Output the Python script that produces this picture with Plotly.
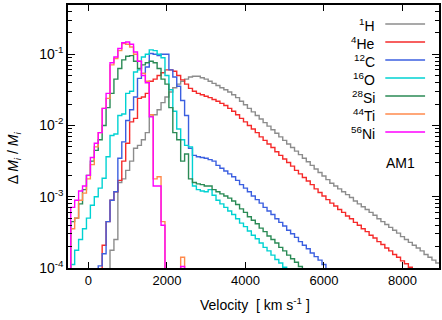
import plotly.graph_objects as go

# Velocity bins: 100 km/s wide; first bin left edge for each species
BIN_WIDTH = 100
species = ["<sup>1</sup>H", "<sup>4</sup>He", "<sup>12</sup>C", "<sup>16</sup>O",
           "<sup>28</sup>Si", "<sup>44</sup>Ti", "<sup>56</sup>Ni"]
colors = ["#8c8c8c", "#f52a2a", "#3b5fe0", "#00d2d2", "#2a8a55", "#ff8a4c", "#ff00ff"]

# log10(Delta M_i / M_i) per bin
start_H1 = 550
log_H1 = [-3.75, -3.6, -2.8, -2.75, -2.63, -2.5, -2.32, -2.28, -2.2, -2.1,
          -1.87, -1.85, -1.78, -1.68, -1.6, -1.53, -1.47, -1.42, -1.38, -1.35,
          -1.32, -1.31, -1.31, -1.33, -1.35, -1.38, -1.41, -1.44, -1.47, -1.50,
          -1.53, -1.57, -1.61, -1.66, -1.71, -1.76, -1.81, -1.86, -1.91, -1.96,
          -2.01, -2.06, -2.11, -2.16, -2.21, -2.26, -2.31, -2.36, -2.41, -2.46,
          -2.51, -2.56, -2.61, -2.66, -2.71, -2.76, -2.81, -2.85, -2.89, -2.93,
          -2.97, -3.01, -3.06, -3.10, -3.14, -3.18, -3.22, -3.26, -3.31, -3.35,
          -3.39, -3.43, -3.47, -3.51, -3.56, -3.60, -3.64, -3.68, -3.72, -3.76,
          -3.81, -3.85, -3.89, -3.93, -3.97]

start_He4 = 350
log_He4 = [-3.68, -3.35, -3.05, -2.93, -2.77, -2.5, -2.25, -1.95, -1.9, -1.62,
           -1.6, -1.55, -1.38, -1.35, -1.3, -1.26, -1.22, -1.22, -1.24, -1.3,
           -1.36, -1.42, -1.48, -1.52, -1.55, -1.57, -1.59, -1.61, -1.635, -1.66,
           -1.69, -1.72, -1.76, -1.80, -1.85, -1.90, -1.95, -2.00, -2.05, -2.10,
           -2.16, -2.21, -2.26, -2.31, -2.37, -2.42, -2.47, -2.52, -2.57, -2.63,
           -2.68, -2.73, -2.78, -2.83, -2.89, -2.94, -2.99, -3.04, -3.09, -3.13,
           -3.18, -3.22, -3.27, -3.31, -3.36, -3.40, -3.45, -3.49, -3.54, -3.58,
           -3.63, -3.67, -3.72, -3.76, -3.81, -3.85, -3.90, -3.94, -3.99]

start_C12 = 250
log_C12 = [-3.97, -3.8, -3.35, -3.05, -2.93, -2.46, -2.23, -1.93, -1.78, -1.6,
           -1.34, -1.27, -1.18, -0.99, -1.0, -1.02, -1.0, -1.0, -1.22, -1.32,
           -1.45, -1.65, -1.86, -2.32, -2.42, -2.44, -2.45, -2.46, -2.48, -2.5,
           -2.56, -2.6, -2.64, -2.68, -2.72, -2.77, -2.83, -2.88, -2.93, -2.99,
           -3.04, -3.09, -3.15, -3.20, -3.25, -3.31, -3.36, -3.41, -3.47, -3.52,
           -3.57, -3.63, -3.68, -3.73, -3.79, -3.84, -3.89, -3.95]

start_O16 = -450
log_O16 = [-3.95, -3.75, -3.6, -3.45, -3.3, -3.12, -3.0, -2.88, -2.74, -2.44,
           -2.14, -2.12, -1.86, -1.84, -1.55, -1.52, -1.25, -1.22, -1.04, -1.0,
           -0.94, -0.95, -1.0, -1.05, -1.3, -1.5, -1.8, -2.05, -2.2, -2.28,
           -2.3, -2.85, -2.9, -2.92, -2.93, -2.9, -2.98, -3.05, -3.1, -3.15,
           -3.2, -3.25, -3.31, -3.37, -3.42, -3.48, -3.54, -3.59, -3.65, -3.71,
           -3.76, -3.82, -3.88, -3.93, -3.99]

start_Si28 = -450
log_Si28 = [-3.35, -3.3, -3.1, -2.9, -2.7, -2.5, -2.35, -2.2, -2.0, -1.75,
            -1.55, -1.35, -1.2, -1.08, -1.03, -1.02, -1.1, -1.2, -1.15, -1.12,
            -1.1, -1.12, -1.2, -1.35, -1.42, -1.75, -2.1, -2.2, -2.5, -2.4,
            -2.75, -2.8, -2.82, -2.83, -2.85, -2.85, -2.9, -2.93, -2.96, -2.99,
            -3.02, -3.06, -3.11, -3.17, -3.22, -3.28, -3.33, -3.38, -3.44, -3.49,
            -3.55, -3.60, -3.65, -3.71, -3.76, -3.82, -3.87, -3.92, -3.98]

start_Ti44 = -450
log_Ti44 = [-3.45, -3.3, -3.05, -2.95, -2.75, -2.55, -2.3, -2.1, -1.76, -1.62,
            -1.15, -1.06, -0.95, -0.85, -0.86, -0.9, -1.0, -1.1, -1.27, -1.38,
            -1.85, -2.75, -2.72, -3.35, -6, -6, -6, -6, -3.85, -6]

start_Ni56 = -450
log_Ni56 = [-3.15, -3.05, -2.92, -2.85, -2.7, -2.45, -2.25, -2.1, -1.76, -1.55,
            -1.12, -1.04, -0.92, -0.84, -0.83, -0.86, -0.97, -1.1, -1.3, -1.4,
            -1.88, -2.85, -2.85, -3.4, -6, -6, -6, -6, -3.98, -6]

series = [(start_H1, log_H1), (start_He4, log_He4), (start_C12, log_C12),
          (start_O16, log_O16), (start_Si28, log_Si28), (start_Ti44, log_Ti44),
          (start_Ni56, log_Ni56)]

x_ticks = [0, 2000, 4000, 6000, 8000]
y_ticks = [1e-4, 1e-3, 1e-2, 1e-1]
y_ticktext = ["10<sup>-4</sup>", "10<sup>-3</sup>", "10<sup>-2</sup>", "10<sup>-1</sup>"]
y_minor = [m * d for d in (1e-4, 1e-3, 1e-2, 1e-1) for m in range(2, 10)]

FLOOR = 1e-7
fig = go.Figure()
for (start, logs), col in zip(series, colors):
    n = len(logs)
    xs = [start] + [start + BIN_WIDTH * i for i in range(n)] + [start + BIN_WIDTH * n]
    ys = [FLOOR] + [10 ** v for v in logs] + [FLOOR]
    fig.add_trace(go.Scatter(x=xs, y=ys, mode="lines", line_shape="hv",
                             line=dict(color=col, width=1.4), hoverinfo="skip"))

W, H = 442, 320
L, R, T, B = 68, 1, 5, 52
pw, ph = W - L - R, H - T - B
def px(x):
    return (x - L) / pw
def py(y):
    return (H - B - y) / ph

annotations = []
shapes = []
row_y = [24, 42, 60, 78, 96, 114, 132]
for name, col, yy in zip(species, colors, row_y):
    annotations.append(dict(x=px(379), y=py(yy + 1), xref="paper", yref="paper",
                            text=name, showarrow=False, xanchor="right", yanchor="middle",
                            font=dict(size=14)))
    shapes.append(dict(type="line", xref="paper", yref="paper",
                       x0=px(387), x1=px(427), y0=py(yy), y1=py(yy),
                       line=dict(color=col, width=1.4)))
annotations.append(dict(x=px(402), y=py(163), xref="paper", yref="paper", text="AM1",
                        showarrow=False, xanchor="center", yanchor="middle",
                        font=dict(size=14)))
annotations.append(dict(x=px(256), y=py(304), xref="paper", yref="paper",
                        text="Velocity  [ km s<sup>-1</sup> ]", showarrow=False,
                        xanchor="center", yanchor="middle", font=dict(size=14)))
annotations.append(dict(x=px(14), y=py(158), xref="paper", yref="paper",
                        text="Δ <i>M</i><sub><i>i</i></sub> / <i>M</i><sub><i>i</i></sub>",
                        showarrow=False, textangle=-90, xanchor="center", yanchor="middle",
                        font=dict(size=14)))

fig.update_layout(
    width=W, height=H, margin=dict(l=L, r=R, t=T, b=B),
    plot_bgcolor="white", paper_bgcolor="white", showlegend=False,
    font=dict(family="Liberation Sans, Arial, sans-serif", size=13, color="black"),
    annotations=annotations, shapes=shapes,
    xaxis=dict(range=[-520, 8930], tickvals=x_ticks, ticks="inside", ticklen=6,
               tickcolor="black", showline=True, linecolor="black", linewidth=1.5,
               mirror="ticks", showgrid=False, zeroline=False, tickfont=dict(size=13)),
    yaxis=dict(type="log", range=[-4, -0.31], tickvals=y_ticks, ticktext=y_ticktext,
               ticks="inside", ticklen=7, tickcolor="black", showline=True,
               linecolor="black", linewidth=1.5, mirror="ticks", showgrid=False,
               zeroline=False, tickfont=dict(size=14),
               minor=dict(ticks="inside", ticklen=4, tickcolor="black", tickvals=y_minor,
                          showgrid=False)),
)
fig.write_html("out.html")
